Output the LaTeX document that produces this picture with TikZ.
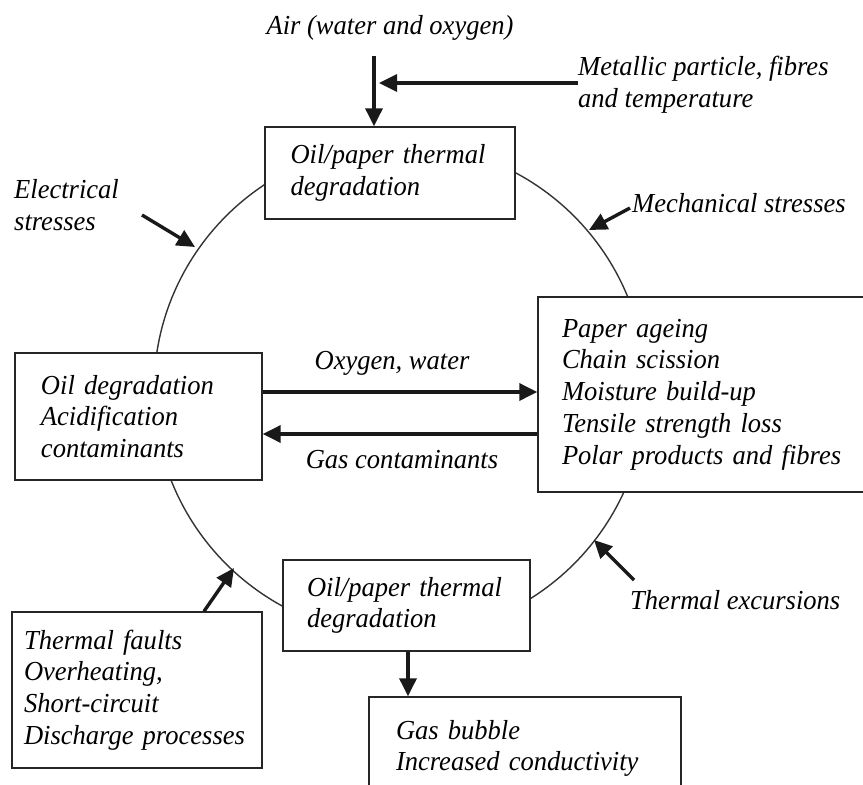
\documentclass[tikz,border=0pt]{standalone}
\usepackage{fontspec}
\setmainfont[FakeStretch=0.965]{Liberation Serif}
\usetikzlibrary{arrows.meta}

\begin{document}
\begin{tikzpicture}[
    x=1pt, y=-1pt,
    box/.style={rectangle, draw=black!85, line width=1.4pt, fill=white, align=left, font=\fontsize{27.5}{31.7}\selectfont\itshape},
    label/.style={inner sep=0pt, align=left, font=\fontsize{27.5}{31.7}\selectfont\itshape},
    arrow/.style={-{Triangle[length=18pt,width=17pt]}, line width=3.4pt, black!90}
  ]
    \useasboundingbox (0,0) rectangle (863,785);
    \clip (0,0) rectangle (863,785);
    \draw[line width=1.4pt, black!80] (400,390) circle [radius=246];
    % boxes on the cycle
    \node[box, text width=199, inner xsep=25.5, minimum height=92] (topdeg) at (390,173) {Oil/paper thermal\\degradation};
    \node[box, text width=195, inner xsep=26, minimum height=127] (oildeg) at (138.5,416.5) {Oil degradation\\Acidification\\contaminants};
    \node[box, text width=286, inner xsep=24, minimum height=195] (paper) at (705,394.5) {Paper ageing\\Chain scission\\Moisture build-up\\Tensile strength loss\\Polar products and fibres};
    \node[box, text width=199, inner xsep=24, minimum height=91] (botdeg) at (406.5,605.5) {Oil/paper thermal\\degradation};
    \node[box, text width=226, inner xsep=12, minimum height=156] (faults) at (137,690) {Thermal faults\\Overheating,\\Short-circuit\\Discharge processes};
    \node[box, text width=258, inner xsep=27, minimum height=103] (bubble) at (525,748.5) {Gas bubble\\Increased conductivity};
    % outside influences
    \node[label, anchor=center] (air) at (390,28) {Air (water and oxygen)};
    \node[label, anchor=west] (metal) at (578,85) {Metallic particle, fibres\\and temperature};
    \node[label, anchor=west] (elec) at (14,205) {Electrical\\stresses};
    \node[label, anchor=west] (mech) at (632,203) {Mechanical stresses};
    \node[label, anchor=west] (excur) at (630,600) {Thermal excursions};
    \node[label, anchor=center] (oxy) at (392,363) {Oxygen, water};
    \node[label, anchor=center] (gascont) at (402,460) {Gas contaminants};
    \coordinate (airtop) at (374,56);
    \coordinate (airmeet) at (379,83);
    \coordinate (elecstart) at (142,215);
    \coordinate (elecend) at (195,247);
    \coordinate (mechstart) at (630,208);
    \coordinate (mechend) at (589,230);
    \coordinate (excstart) at (634,580);
    \coordinate (excend) at (594,540);
    \coordinate (faultend) at (234,568);
    \draw[arrow] (airtop) -- (airtop |- topdeg.north);
    \draw[arrow] (metal.west |- airmeet) -- (airmeet);
    \draw[arrow] (elecstart) -- (elecend);
    \draw[arrow] (mechstart) -- (mechend);
    \draw[arrow] (excstart) -- (excend);
    \draw[arrow] (faults.north -| 204,0) -- (faultend);
    \draw[arrow] (oildeg.east |- 0,392) -- (paper.west |- 0,392);
    \draw[arrow] (paper.west |- 0,434) -- (oildeg.east |- 0,434);
    \draw[arrow] (botdeg.south -| 408,0) -- (bubble.north -| 408,0);
  \end{tikzpicture}
\end{document}
